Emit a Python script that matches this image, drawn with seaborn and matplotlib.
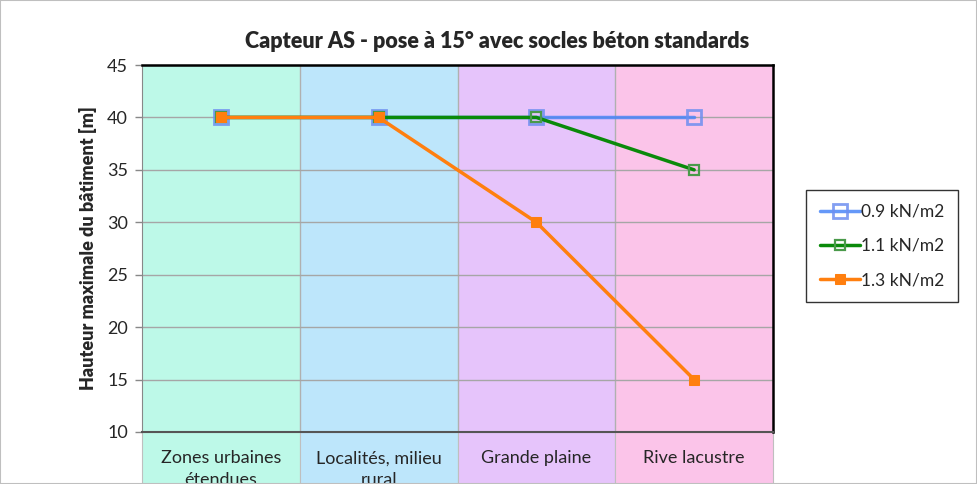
import pandas as pd
import matplotlib
matplotlib.use("Agg")
import matplotlib.pyplot as plt
import seaborn as sns
from matplotlib.patches import Rectangle

categories = ["Zones urbaines\nétendues", "Localités, milieu\nrural", "Grande plaine", "Rive lacustre"]
zone_colors = ["#bdf9e8", "#bde6fb", "#e6c4fb", "#fbc4e9"]
series_names = ["0.9 kN/m2", "1.1 kN/m2", "1.3 kN/m2"]
h_09 = [40, 40, 40, 40]
h_11 = [40, 40, 40, 35]
h_13 = [40, 40, 30, 15]

sns.set_style("white")
plt.rcParams["font.family"] = ["Lato", "DejaVu Sans"]

W, H = 977, 484
fig = plt.figure(figsize=(W / 100, H / 100), dpi=100)
ax = fig.add_axes([142 / W, (H - 432) / H, (773 - 142) / W, (432 - 65) / H])

# coloured zones behind the plot + label boxes below the axis
for i, c in enumerate(zone_colors):
    ax.axvspan(i - 0.5, i + 0.5, color=c, zorder=0, lw=0)
    ax.add_patch(Rectangle((i - 0.5, -0.25), 1, 0.25, transform=ax.get_xaxis_transform(),
                           facecolor=c, edgecolor="#bfbfbf", lw=0.8, clip_on=False, zorder=0))
    ax.text(i, -0.05, categories[i], transform=ax.get_xaxis_transform(), ha="center", va="top",
            fontsize=13, linespacing=1.45, clip_on=False)
for b in [0.5, 1.5, 2.5]:
    ax.axvline(b, color="#b0b0b0", lw=1, zorder=1)

for y in range(10, 46, 5):
    ax.axhline(y, color="#a6a6a6", lw=1, zorder=1)

df = pd.DataFrame({"x": list(range(4)) * 3,
                   "h": h_09 + h_11 + h_13,
                   "serie": [s for s in series_names for _ in range(4)]})

styles = {
    "0.9 kN/m2": dict(color="#4a86f7", marker="s", ms=10, mfc="none", mec="#6d8ef0", mew=2, alpha=0.85, lw=2.5),
    "1.1 kN/m2": dict(color="#0a8a0a", marker="s", ms=7, mfc="none", mec="#4a9a4a", mew=1.6, lw=2.5),
    "1.3 kN/m2": dict(color="#ff7f0f", marker="s", ms=7, mfc="#ff7f0f", mec="#ff7f0f", lw=2.5),
}
for s in series_names:
    sns.lineplot(data=df[df["serie"] == s], x="x", y="h", ax=ax, label=s, zorder=3, **styles[s])

ax.set_xlim(-0.5, 3.5)
ax.set_ylim(10, 45)
ax.set_yticks(range(10, 46, 5))
ax.set_xticks([-0.5, 0.5, 1.5, 2.5, 3.5])
ax.set_xticklabels([])
ax.tick_params(axis="x", length=6, color="#888888", width=1)
ax.tick_params(axis="y", length=5, color="#888888", width=1, labelsize=13, pad=5, left=True)
ax.set_xlabel("")
ax.set_ylabel("Hauteur maximale du bâtiment [m]", fontsize=13, fontweight="heavy", labelpad=7)
for side in ["top", "right"]:
    ax.spines[side].set_color("black")
    ax.spines[side].set_linewidth(1.8)
ax.spines["left"].set_color("#888888")
ax.spines["bottom"].set_color("#555555")
ax.spines["bottom"].set_linewidth(1.5)

fig.text(497 / W, 1 - 42 / H, "Capteur AS - pose à 15° avec socles béton standards",
         ha="center", va="center", fontsize=15.5, fontweight="heavy")

leg = ax.legend(loc="center left", bbox_to_anchor=(797 / W, 1 - 246 / H), bbox_transform=fig.transFigure,
                frameon=True, fancybox=False, edgecolor="black", fontsize=12.5,
                handlelength=2.3, handletextpad=0.1, labelspacing=1.05, borderpad=0.8)
leg.get_frame().set_linewidth(1)

fig.add_artist(Rectangle((0, 0), 1, 1, transform=fig.transFigure, fill=False,
                         edgecolor="#bfbfbf", lw=1.5))

fig.savefig("out.png", dpi=100)
